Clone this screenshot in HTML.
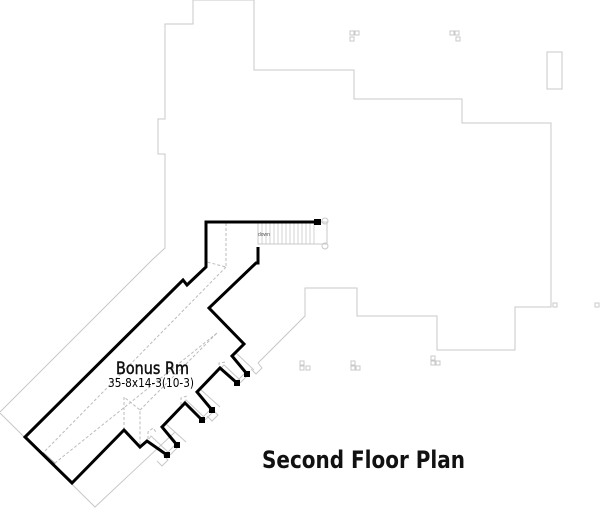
<!DOCTYPE html>
<html><head><style>
html,body{margin:0;padding:0;background:#fff;}
svg{display:block;}
</style></head><body>
<svg width="600" height="508" viewBox="0 0 600 508" xmlns="http://www.w3.org/2000/svg">
<g fill="none" stroke="#c8c8c8" stroke-width="1">
<polyline points="0,412 152,260 165,248 165,154 158,154 158,119 165,119 165,24 193,24 193,0 254,0 254,70 354,70 354,99 462,99 462,123 551,123 551,307 515,307 515,350 437,350 437,316 357,316 357,288 305,288 305,316 258,363"/>
<polyline points="0,413 95,507 175,432"/>
<rect x="547" y="52" width="15" height="37"/>
<rect x="350" y="31" width="4" height="4"/><rect x="355" y="31" width="4" height="4"/><rect x="350" y="37" width="4" height="4"/>
<rect x="450" y="31" width="4" height="4"/><rect x="455" y="31" width="4" height="4"/><rect x="456" y="37" width="4" height="4"/>
<rect x="553" y="303" width="4" height="4"/><rect x="595" y="303" width="4" height="4"/>
<rect x="300" y="361" width="4" height="4"/><rect x="300" y="366" width="4" height="4"/><rect x="306" y="366" width="4" height="4"/>
<rect x="351" y="361" width="4" height="4"/><rect x="351" y="366" width="4" height="4"/><rect x="356" y="366" width="4" height="4"/>
<rect x="431" y="356" width="4" height="4"/><rect x="431" y="361" width="4" height="4"/><rect x="436" y="361" width="4" height="4"/>
<rect x="258" y="222" width="69" height="22"/>
<polyline points="258,363 262,368 256,374 251,369"/>
<polyline points="163,455 168,460 162,466 157,461"/>
<polyline points="213,410 218,415 212,421 207,416"/>
<line x1="168" y1="452" x2="176" y2="444"/><line x1="170" y1="455" x2="178" y2="447"/>
<line x1="203" y1="417" x2="211" y2="409"/><line x1="205" y1="420" x2="213" y2="412"/>
<line x1="238" y1="380" x2="246" y2="372"/><line x1="240" y1="383" x2="248" y2="375"/>
<line x1="43" y1="453" x2="55" y2="464" stroke="#999" stroke-width="2"/>
<polyline points="149,439 151,436 168,452"/>
<polyline points="163,427 166,424 186,442"/>
<polyline points="183,403 186,400 204,417"/>
<polyline points="197,392 200,389 220,407"/>
<polyline points="221,368 224,365 240,380"/>
<polyline points="233,356 236,353 254,370"/>
</g>
<g stroke="#c8c8c8" stroke-width="0.8">
<line x1="262" y1="222" x2="262" y2="244"/><line x1="266" y1="222" x2="266" y2="244"/><line x1="270" y1="222" x2="270" y2="244"/><line x1="274" y1="222" x2="274" y2="244"/><line x1="278" y1="222" x2="278" y2="244"/><line x1="282" y1="222" x2="282" y2="244"/><line x1="286" y1="222" x2="286" y2="244"/><line x1="290" y1="222" x2="290" y2="244"/><line x1="294" y1="222" x2="294" y2="244"/><line x1="298" y1="222" x2="298" y2="244"/><line x1="302" y1="222" x2="302" y2="244"/><line x1="306" y1="222" x2="306" y2="244"/><line x1="310" y1="222" x2="310" y2="244"/><line x1="314" y1="222" x2="314" y2="244"/>
</g>
<circle cx="325" cy="221" r="3" fill="none" stroke="#c8c8c8"/>
<circle cx="325" cy="246" r="3" fill="none" stroke="#c8c8c8"/>
<text x="258" y="236" font-family="Liberation Sans, sans-serif" font-size="5" fill="#555">down</text>
<g fill="none" stroke="#bbb" stroke-width="1" stroke-dasharray="3,2">
<polyline points="226,223 226,267 207,262"/>
<line x1="226" y1="267" x2="43" y2="453"/>
<line x1="217" y1="333" x2="55" y2="463"/>
<polyline points="124,430 124,397 140,410 140,447"/>
<line x1="140" y1="410" x2="217" y2="333"/>
<polyline points="148,439 148,432 153,428 156,432"/>
<polyline points="181,405 181,398 187,396"/>
<polyline points="219,370 219,363 226,362"/>
</g>
<g fill="none" stroke="#000" stroke-width="3" stroke-linejoin="miter">
<polyline points="320,222 206,222 206,267 187,285 183,280 25,437 72,483 124,430 140,447 147,441 167,455"/>
<polyline points="177,445 162,427 185,403 202,420"/>
<polyline points="212,410 197,392 220,368 237,383"/>
<polyline points="247,374 232,356 244,344 209,308 256,263 258,263 258,247"/>
</g>
<g fill="#000">
<rect x="314" y="219" width="7" height="6"/>
<rect x="164" y="452" width="6" height="6"/><rect x="174" y="442" width="6" height="6"/>
<rect x="199" y="417" width="6" height="6"/><rect x="209" y="407" width="6" height="6"/>
<rect x="234" y="380" width="6" height="6"/><rect x="244" y="371" width="6" height="6"/>
</g>
<text x="116" y="374" font-family="DejaVu Sans, sans-serif" font-size="17" textLength="73" lengthAdjust="spacingAndGlyphs" fill="#111" stroke="#111" stroke-width="0.5">Bonus Rm</text>
<text x="108" y="387" font-family="DejaVu Sans, sans-serif" font-size="12" textLength="86" lengthAdjust="spacingAndGlyphs" fill="#000">35-8x14-3(10-3)</text>
<text x="262" y="468" font-family="DejaVu Sans, sans-serif" font-weight="bold" font-size="24" textLength="203" lengthAdjust="spacingAndGlyphs" fill="#111">Second Floor Plan</text>
</svg>
</body></html>
